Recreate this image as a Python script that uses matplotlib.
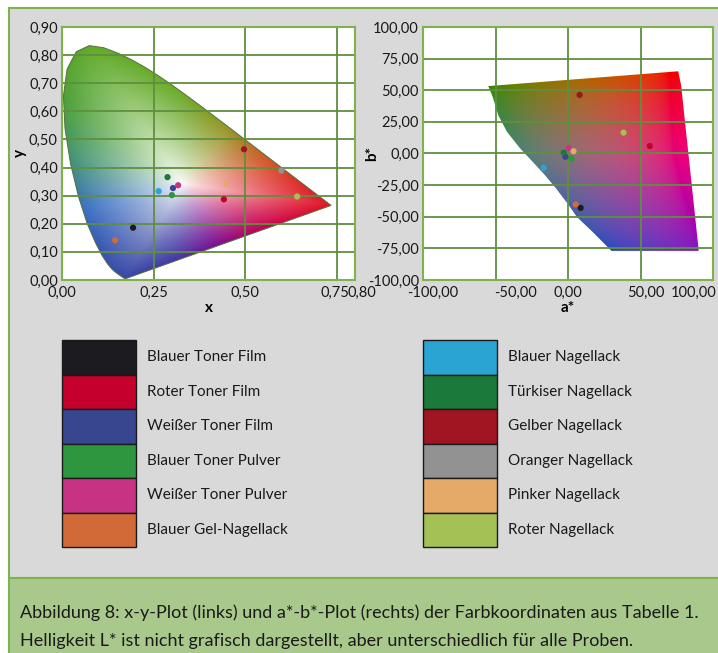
import numpy as np
import matplotlib
matplotlib.use("Agg")
import matplotlib.pyplot as plt
from matplotlib.patches import Rectangle, Polygon
from matplotlib.ticker import FuncFormatter
from matplotlib.transforms import ScaledTranslation

plt.rcParams['font.family'] = ['Lato', 'DejaVu Sans']

# ---- data -------------------------------------------------------------
names = ["Blauer Toner Film", "Roter Toner Film", "Weißer Toner Film",
         "Blauer Toner Pulver", "Weißer Toner Pulver", "Blauer Gel-Nagellack",
         "Blauer Nagellack", "Türkiser Nagellack", "Gelber Nagellack",
         "Oranger Nagellack", "Pinker Nagellack", "Roter Nagellack"]
colors = ["#1c1b20", "#c4002c", "#37468e", "#2e963f", "#c83282", "#d26a38",
          "#2aa5d3", "#1b7a3b", "#a11421", "#929292", "#e5aa67", "#a3c155"]

cie_x = [0.194, 0.442, 0.303, 0.300, 0.317, 0.145,
         0.264, 0.288, 0.497, 0.599, 0.449, 0.642]
cie_y = [0.186, 0.287, 0.327, 0.302, 0.337, 0.141,
         0.316, 0.366, 0.465, 0.389, 0.342, 0.297]

lab_a = [8.7, 56.4, -1.8, 2.5, 0.4, 5.3,
         -16.8, -3.0, 8.0, np.nan, 3.8, 38.3]
lab_b = [-43.0, 5.9, -2.6, -3.9, 4.2, -40.2,
         -11.3, 0.6, 46.3, np.nan, 1.8, 16.5]

# CIE 1931 spectral locus (380 ... 700 nm)
locus_x = [0.1741, 0.1740, 0.1738, 0.1736, 0.1733, 0.1730, 0.1726, 0.1721,
           0.1714, 0.1703, 0.1689, 0.1669, 0.1644, 0.1611, 0.1566, 0.1510,
           0.1440, 0.1355, 0.1241, 0.1096, 0.0913, 0.0687, 0.0454, 0.0235,
           0.0082, 0.0039, 0.0139, 0.0389, 0.0743, 0.1142, 0.1547, 0.1929,
           0.2296, 0.2658, 0.3016, 0.3373, 0.3731, 0.4087, 0.4441, 0.4788,
           0.5125, 0.5448, 0.5752, 0.6029, 0.6270, 0.6482, 0.6658, 0.6801,
           0.6915, 0.7006, 0.7079, 0.7140, 0.7190, 0.7230, 0.7260, 0.7283,
           0.7300, 0.7311, 0.7320, 0.7347]
locus_y = [0.0050, 0.0050, 0.0049, 0.0049, 0.0048, 0.0048, 0.0048, 0.0048,
           0.0051, 0.0058, 0.0069, 0.0086, 0.0109, 0.0138, 0.0177, 0.0227,
           0.0297, 0.0399, 0.0578, 0.0868, 0.1327, 0.2007, 0.2950, 0.4127,
           0.5384, 0.6548, 0.7502, 0.8120, 0.8338, 0.8262, 0.8059, 0.7816,
           0.7543, 0.7243, 0.6923, 0.6589, 0.6245, 0.5896, 0.5547, 0.5202,
           0.4866, 0.4544, 0.4242, 0.3965, 0.3725, 0.3514, 0.3340, 0.3197,
           0.3083, 0.2993, 0.2920, 0.2859, 0.2809, 0.2770, 0.2740, 0.2717,
           0.2700, 0.2689, 0.2680, 0.2653]

# edge colours of the x-y area as seen in the picture (x, y, rgb)
edge_x = [0.074, 0.004, 0.030, 0.060, 0.170, 0.300, 0.420, 0.580, 0.735, 0.580, 0.460, 0.300]
edge_y = [0.834, 0.650, 0.420, 0.250, 0.005, 0.060, 0.115, 0.180, 0.265, 0.410, 0.530, 0.690]
edge_rgb = [(95, 170, 40), (75, 160, 55), (65, 145, 120), (55, 110, 195),
            (55, 70, 165), (65, 55, 165), (120, 15, 145), (200, 0, 80),
            (225, 20, 40), (215, 75, 35), (155, 145, 35), (105, 170, 40)]
white_xy = (0.33, 0.34)

# outline of the a*b* colour area
gamut_a = [-55, -52, -48, -42, -33, -24, -16, -8, 0, 6, 17, 30,
           90, 90, 78, 76]
gamut_b = [53.3, 45, 30, 17, 4, -7, -17, -28, -40, -50, -62, -77,
           -77, -75, 54, 65]

caption = ["Abbildung 8: x-y-Plot (links) und a*-b*-Plot (rechts) der Farbkoordinaten aus Tabelle 1.",
           "Helligkeit L* ist nicht grafisch dargestellt, aber unterschiedlich für alle Proben."]

GREEN_EDGE = "#7db24f"
GRID = "#5f8f3f"

def to_srgb(lin):
    lin = np.clip(lin, 0, 1)
    return np.where(lin <= 0.0031308, 12.92 * lin, 1.055 * lin ** (1 / 2.4) - 0.055)

M = np.array([[3.2406, -1.5372, -0.4986],
              [-0.9689, 1.8758, 0.0415],
              [0.0557, -0.2040, 1.0570]])

def chroma_image(n=500):
    wx, wy = white_xy
    xs = np.linspace(0, 0.8, n)
    ys = np.linspace(0.9, 0, n)
    X, Y = np.meshgrid(xs, ys)
    th = np.arctan2(Y - wy, X - wx)
    d = np.hypot(X - wx, Y - wy)
    # boundary distance for every direction (locus + purple line)
    bx = np.array(locus_x)
    by = np.array(locus_y)
    px = np.linspace(bx[-1], bx[0], 40)
    py = np.linspace(by[-1], by[0], 40)
    bx = np.concatenate([bx, px])
    by = np.concatenate([by, py])
    bth = np.arctan2(by - wy, bx - wx)
    bd = np.hypot(bx - wx, by - wy)
    o = np.argsort(bth)
    bound = np.interp(th, bth[o], bd[o], period=2 * np.pi)
    w = np.clip(d / bound, 0, 1) ** 0.8
    ath = np.arctan2(np.array(edge_y) - wy, np.array(edge_x) - wx)
    rgb = np.array(edge_rgb) / 255
    o = np.argsort(ath)
    img = np.zeros(X.shape + (3,))
    for k in range(3):
        edge = np.interp(th, ath[o], rgb[o, k], period=2 * np.pi)
        img[..., k] = (1 - w) * 0.99 + w * edge
    return img

def lab_image(n=400):
    aa = np.linspace(-100, 100, n)
    bb = np.linspace(100, -100, n)
    A, B = np.meshgrid(aa, bb)
    A = A + 12 * (1 - (A / 100) ** 2)
    neg = np.clip(-B, 0, None) / 100
    A = A * (1 - 0.35 * neg)
    B = B * (1 - 0.2 * neg)
    L = 50 - 18 * neg
    fy = (L + 16) / 116
    fx = fy + A / 500
    fz = fy - B / 200
    def finv(t):
        return np.where(t > 6 / 29, t ** 3, 3 * (6 / 29) ** 2 * (t - 4 / 29))
    XYZ = np.stack([0.95047 * finv(fx), finv(fy), 1.08883 * finv(fz)])
    rgb = np.tensordot(M, XYZ, axes=1)
    return to_srgb(rgb).transpose(1, 2, 0)

def comma(v, pos):
    return f"{v:.2f}".replace(".", ",")

fig = plt.figure(figsize=(7.18, 6.53), dpi=100)
fig.patch.set_facecolor("white")

# background panel, legend and caption in pixel coordinates
bg = fig.add_axes([0, 0, 1, 1])
bg.set_xlim(0, 718)
bg.set_ylim(653, 0)
bg.axis("off")
bg.add_patch(Rectangle((9, 8), 720, 570, facecolor="#d9d9d9", edgecolor=GREEN_EDGE, lw=1.5))
bg.add_patch(Rectangle((9, 578), 720, 80, facecolor="#a9c98c", edgecolor=GREEN_EDGE, lw=1.5))
bg.text(20, 613, caption[0], fontsize=13, va="center", color="#1a1a1a")
bg.text(20, 641, caption[1], fontsize=13, va="center", color="#1a1a1a")

row_h = 34.5
for i in range(len(names)):
    col, row = divmod(i, 6)
    x0 = 62 if col == 0 else 423
    y0 = 340 + row * row_h
    bg.add_patch(Rectangle((x0, y0), 74, row_h, facecolor=colors[i],
                           edgecolor="#1a1a1a", lw=1))
    bg.text(x0 + 85, y0 + row_h / 2, names[i], fontsize=11,
            va="center", color="#1a1a1a")

# ---- left: x-y chromaticity --------------------------------------------
ax1 = fig.add_axes([62 / 718, 1 - 280 / 653, 293 / 718, 253 / 653])
ax1.set_facecolor("white")
ax1.set_xlim(0, 0.8)
ax1.set_ylim(0, 0.9)
shoe = Polygon(np.column_stack([locus_x, locus_y]), closed=True,
               facecolor="none", edgecolor="#55703c", lw=0.7, zorder=1.5)
ax1.add_patch(shoe)
im = ax1.imshow(chroma_image(), extent=[0, 0.8, 0, 0.9], aspect="auto",
                interpolation="bilinear", zorder=1)
im.set_clip_path(shoe)
ax1.set_xticks([0, 0.25, 0.5, 0.75, 0.8])
ax1.set_yticks(np.arange(0, 0.91, 0.1))
ax1.scatter(cie_x, cie_y, s=20, c=colors, zorder=4, linewidths=0)
ax1.set_xlabel("x", fontsize=11, fontweight="bold", labelpad=1)
ax1.set_ylabel("y", fontsize=11, fontweight="bold")
ax1.yaxis.set_label_coords(-0.12, 0.5)

# ---- right: a*-b* -------------------------------------------------------
ax2 = fig.add_axes([423 / 718, 1 - 280 / 653, 290 / 718, 253 / 653])
ax2.set_facecolor("white")
ax2.set_xlim(-100, 100)
ax2.set_ylim(-100, 100)
area = Polygon(np.column_stack([gamut_a, gamut_b]), closed=True,
               facecolor="none", edgecolor="none", zorder=1.5)
ax2.add_patch(area)
im2 = ax2.imshow(lab_image(), extent=[-100, 100, -100, 100], aspect="auto",
                 interpolation="bilinear", zorder=1)
im2.set_clip_path(area)
ax2.set_xticks([-100, -50, 0, 50, 100])
ax2.set_yticks(np.arange(-100, 101, 25))
ax2.scatter(lab_a, lab_b, s=20, c=colors, zorder=4, linewidths=0)
ax2.set_xlabel("a*", fontsize=11, fontweight="bold", labelpad=1)
ax2.set_ylabel("b*", fontsize=11, fontweight="bold")
ax2.yaxis.set_label_coords(-0.152, 0.5)

for ax in (ax1, ax2):
    ax.xaxis.set_major_formatter(FuncFormatter(comma))
    ax.yaxis.set_major_formatter(FuncFormatter(comma))
    ax.tick_params(length=0, labelsize=10.5, pad=3, colors="#1a1a1a")
    ax.tick_params(axis="x", pad=4)
    ax.grid(True, color=GRID, lw=1.3, zorder=2)
    ax.set_axisbelow(False)
    for s in ax.spines.values():
        s.set_color(GREEN_EDGE)
        s.set_linewidth(1.5)
        s.set_zorder(3)

# the source shifts some x tick labels sideways
for ax, shifts in ((ax1, [0, 0, 0, -2, 7]), (ax2, [10, 20, 0, 5, -19])):
    for tick, dx in zip(ax.xaxis.get_major_ticks(), shifts):
        tick.label1.set_transform(tick.label1.get_transform()
                                  + ScaledTranslation(dx / 100, 0, fig.dpi_scale_trans))

fig.savefig("out.png", dpi=100)
